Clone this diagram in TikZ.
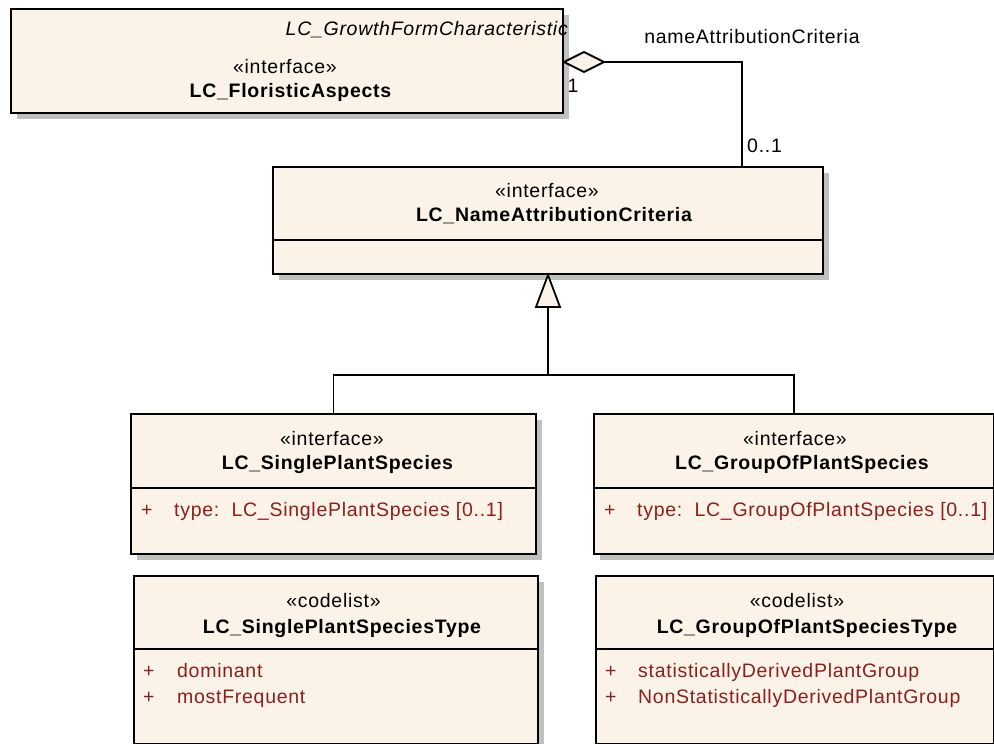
\documentclass[tikz,border=0pt]{standalone}
\usepackage{fontspec}
\setmainfont{Liberation Sans}[LetterSpace=3.7]
\usetikzlibrary{calc,shadows}
\definecolor{boxfill}{RGB}{251,243,231}
\definecolor{shade}{RGB}{192,192,192}
\definecolor{attr}{RGB}{140,30,30}
\begin{document}
\begin{tikzpicture}[x=1pt,y=-1pt,
  cls/.style={draw=black, line width=2pt, fill=boxfill, inner sep=0pt, anchor=north west,
    drop shadow={shadow xshift=6pt, shadow yshift=-6pt, fill=shade, opacity=1}},
  sepline/.style={draw=black, line width=1.8pt},
  conn/.style={draw=black, line width=1.8pt},
  sttxt/.style={font=\fontsize{19.5}{23}\selectfont, inner sep=0pt, anchor=base},
  nmtxt/.style={font=\fontsize{19.5}{23}\selectfont\bfseries, inner sep=0pt, anchor=base},
  ittxt/.style={font=\fontsize{19.5}{23}\selectfont\itshape, inner sep=0pt, anchor=base east},
  attrtxt/.style={font=\fontsize{19.5}{23}\selectfont, text=attr, inner sep=0pt, anchor=base west},
  lbltxt/.style={font=\fontsize{19.5}{23}\selectfont, inner sep=0pt}
]
\useasboundingbox (0,0) rectangle (994,744);
\fill[white] (0,0) rectangle (994,744);

% ---- boxes
\node[cls, minimum width=552pt, minimum height=104pt] (top) at (10,8) {};
\node[cls, minimum width=550pt, minimum height=107pt] (mid) at (272,166) {};
\node[cls, minimum width=405pt, minimum height=140pt] (sps) at (130,413) {};
\node[cls, minimum width=400pt, minimum height=140pt] (gps) at (593,413) {};
\node[cls, minimum width=404pt, minimum height=168pt] (spt) at (133,575) {};
\node[cls, minimum width=398pt, minimum height=168pt] (gpt) at (595,575) {};

% ---- separators
\draw[sepline] ($(mid.north west)+(0,74)$) -- ($(mid.north east)+(0,74)$);
\draw[sepline] ($(sps.north west)+(0,75)$) -- ($(sps.north east)+(0,75)$);
\draw[sepline] ($(gps.north west)+(0,75)$) -- ($(gps.north east)+(0,75)$);
\draw[sepline] ($(spt.north west)+(0,74)$) -- ($(spt.north east)+(0,74)$);
\draw[sepline] ($(gpt.north west)+(0,74)$) -- ($(gpt.north east)+(0,74)$);

% ---- top box texts
\node[ittxt] (topit) at ($(top.north east)+(4,27)$) {LC\_GrowthFormCharacteristic};
\node[sttxt] (topst) at ($(top.north)+(-2,65)$) {«interface»};
\node[nmtxt] (topnm) at ($(top.north)+(3.5,89)$) {LC\_FloristicAspects};

% ---- middle box texts
\node[sttxt] (midst) at ($(mid.north)+(-1,31)$) {«interface»};
\node[nmtxt] (midnm) at ($(mid.north)+(6,55)$) {LC\_NameAttributionCriteria};

% ---- single plant species
\node[sttxt] (spsst) at ($(sps.north)+(-1.5,32)$) {«interface»};
\node[nmtxt] (spsnm) at ($(sps.north)+(4,56)$) {LC\_SinglePlantSpecies};
\node[attrtxt] (spsp) at ($(sps.north west)+(11,103)$) {+};
\node[attrtxt] (spsa) at ($(sps.north west)+(44,103)$) {type:\ \ LC\_SinglePlantSpecies [0..1]};

% ---- group of plant species
\node[sttxt] (gpsst) at ($(gps.north)+(1,32)$) {«interface»};
\node[nmtxt] (gpsnm) at ($(gps.north)+(8,56)$) {LC\_GroupOfPlantSpecies};
\node[attrtxt] (gpsp) at ($(gps.north west)+(11,103)$) {+};
\node[attrtxt] (gpsa) at ($(gps.north west)+(44,103)$) {type:\ \ LC\_GroupOfPlantSpecies [0..1]};

% ---- single plant species type
\node[sttxt] (sptst) at ($(spt.north)+(-2.5,32)$) {«codelist»};
\node[nmtxt] (sptnm) at ($(spt.north)+(6,58)$) {LC\_SinglePlantSpeciesType};
\node[attrtxt] (sptp1) at ($(spt.north west)+(10,102)$) {+};
\node[attrtxt] (spta1) at ($(spt.north west)+(44,102)$) {dominant};
\node[attrtxt] (sptp2) at ($(spt.north west)+(10,128)$) {+};
\node[attrtxt] (spta2) at ($(spt.north west)+(44,128)$) {mostFrequent};

% ---- group of plant species type
\node[sttxt] (gptst) at ($(gpt.north)+(2,32)$) {«codelist»};
\node[nmtxt] (gptnm) at ($(gpt.north)+(12,58)$) {LC\_GroupOfPlantSpeciesType};
\node[attrtxt] (gptp1) at ($(gpt.north west)+(10,102)$) {+};
\node[attrtxt] (gpta1) at ($(gpt.north west)+(43,102)$) {statisticallyDerivedPlantGroup};
\node[attrtxt] (gptp2) at ($(gpt.north west)+(10,128)$) {+};
\node[attrtxt] (gpta2) at ($(gpt.north west)+(43,128)$) {NonStatisticallyDerivedPlantGroup};

% ---- aggregation
\coordinate (dl) at ($(top.north east)+(0,54)$);
\coordinate (dr) at ($(dl)+(40,0)$);
\coordinate (aggend) at ($(mid.north west)+(470,0)$);
\draw[conn, fill=boxfill] (dl) -- ++(20,-10) -- (dr) -- ++(-20,10) -- cycle;
\draw[conn] (dr) -| (aggend);
\node[lbltxt, anchor=base] (rolename) at ($(dr)+(148,-19)$) {nameAttributionCriteria};
\node[lbltxt, anchor=base] (mult1) at ($(dl)+(9,30)$) {1};
\node[lbltxt, anchor=base west] (mult2) at ($(aggend)+(5,-14)$) {0..1};

% ---- generalization
\coordinate (tip) at (mid.south);
\coordinate (tbase) at ($(tip)+(0,32)$);
\coordinate (junc) at ($(tip)+(0,100)$);
\draw[conn, fill=boxfill, line join=miter] (tip) -- ($(tbase)+(-12,0)$) -- ($(tbase)+(12,0)$) -- cycle;
\draw[conn] (tbase) -- (junc);
\draw[conn] (sps.north) |- (junc) -| (gps.north);
\end{tikzpicture}
\end{document}
